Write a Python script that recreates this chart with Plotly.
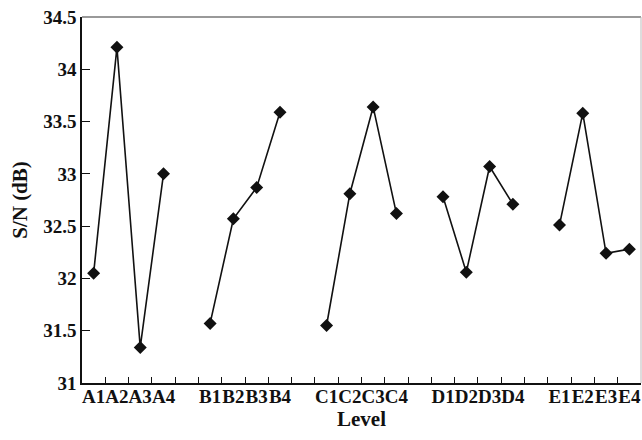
import plotly.graph_objects as go

factors = ["A", "B", "C", "D", "E"]
levels = ["1", "2", "3", "4"]
sn_A = [32.05, 34.21, 31.34, 33.00]
sn_B = [31.57, 32.57, 32.87, 33.59]
sn_C = [31.55, 32.81, 33.64, 32.62]
sn_D = [32.78, 32.06, 33.07, 32.71]
sn_E = [32.51, 33.58, 32.24, 32.28]
series = [sn_A, sn_B, sn_C, sn_D, sn_E]

font_family = "Liberation Serif"

fig = go.Figure()
centers = []
labels = []
for gi, (f, vals) in enumerate(zip(factors, series)):
    xs = [gi * 5 + i for i in range(len(levels))]
    centers += xs
    labels += [f + l for l in levels]
    fig.add_trace(go.Scatter(
        x=xs, y=vals, mode="lines+markers",
        line=dict(color="#111111", width=1.6),
        marker=dict(symbol="diamond", size=10, color="#111111"),
        showlegend=False, hoverinfo="skip",
    ))

n_slots = len(factors) * 5 - 1
boundaries = [i - 0.5 for i in range(n_slots + 1)]
xr = [-0.5, n_slots - 0.5]

# invisible trace for label axis
fig.add_trace(go.Scatter(x=[centers[0]], y=[31], xaxis="x2", mode="markers",
                         marker=dict(opacity=0), showlegend=False, hoverinfo="skip"))

fig.update_layout(
    width=642, height=440,
    margin=dict(l=82, r=1, t=17, b=57),
    paper_bgcolor="white", plot_bgcolor="white",
    font=dict(family=font_family, color="#111111"),
    xaxis=dict(
        range=xr, tickvals=boundaries, showticklabels=False,
        ticks="inside", ticklen=6, tickcolor="#111111", tickwidth=1,
        showline=True, linecolor="#111111", linewidth=1.5,
        showgrid=False, zeroline=False, automargin=False,
        title=dict(text="<b>Level</b>", font=dict(size=21, family=font_family), standoff=28),
    ),
    xaxis2=dict(
        overlaying="x", side="bottom", range=xr,
        tickvals=centers, ticktext=["<b>%s</b>" % t for t in labels],
        ticks="", showline=False, showgrid=False, zeroline=False, automargin=False,
        tickangle=0, ticklabelstandoff=0,
        tickfont=dict(size=19, family=font_family, color="#111111"),
    ),
    yaxis=dict(
        range=[31, 34.5], dtick=0.5, tick0=31,
        ticks="inside", ticklen=8, tickcolor="#111111", tickwidth=1,
        showline=True, linecolor="#111111", linewidth=1.5,
        showgrid=False, zeroline=False, automargin=False,
        tickfont=dict(size=19, family=font_family, color="#111111"),
        title=dict(text="<b>S/N (dB)</b>", font=dict(size=21, family=font_family), standoff=10),
    ),
    shapes=[
        dict(type="line", xref="paper", yref="paper", x0=0, x1=1, y0=1, y1=1,
             line=dict(color="#777777", width=1.5)),
        dict(type="line", xref="paper", yref="paper", x0=1, x1=1, y0=0, y1=1,
             line=dict(color="#bbbbbb", width=1)),
    ],
)
fig.update_yaxes(tickprefix="<b>", ticksuffix="</b>")

fig.write_html("out.html", config={"displayModeBar": False},
               post_script="document.body.style.margin='0';document.body.style.overflow='hidden';")
